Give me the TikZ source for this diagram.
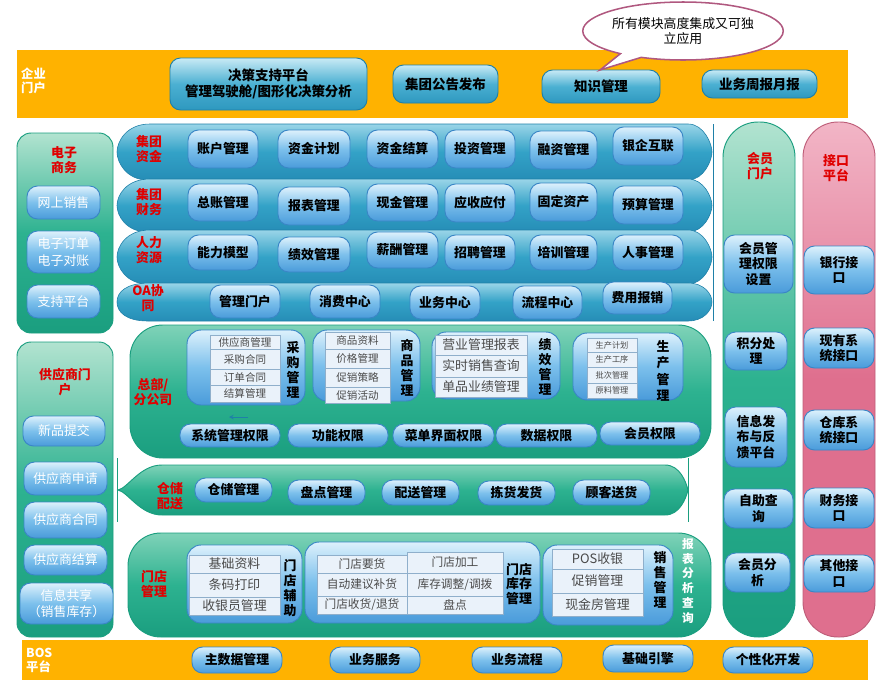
\documentclass[tikz,border=0pt]{standalone}
\usepackage{fontspec}
\setmainfont{Noto Sans CJK SC}
\usetikzlibrary{shapes.callouts}
\definecolor{barorange}{HTML}{FFB200}
\definecolor{lblred}{HTML}{E00000}
\definecolor{btnlight}{HTML}{DDF1FC}
\definecolor{btnmid}{HTML}{7CC0EC}
\definecolor{btndark}{HTML}{4A9BDA}
\definecolor{btnedge}{HTML}{3A86C6}
\definecolor{toplight}{HTML}{C8EAF5}
\definecolor{topmid}{HTML}{4BB0D2}
\definecolor{topdark}{HTML}{2E98BF}
\definecolor{topedge}{HTML}{1F80A8}
\definecolor{tubelight}{HTML}{9AD5E8}
\definecolor{tubemid}{HTML}{33A2C7}
\definecolor{tubedark}{HTML}{268DB6}
\definecolor{greenlight}{HTML}{B2E3D0}
\definecolor{greenwide}{HTML}{7FD2B8}
\definecolor{greenmid}{HTML}{2DB290}
\definecolor{greendark}{HTML}{1A9E7F}
\definecolor{pinklight}{HTML}{F2B5C6}
\definecolor{pinkdark}{HTML}{DF6F8E}
\definecolor{cellfill}{HTML}{EAF2FA}
\definecolor{celledge}{HTML}{8FAFCB}
\definecolor{celltext}{HTML}{4A4A4A}
\definecolor{bubbleedge}{HTML}{B0587F}
\tikzset{
  btn/.style={rounded corners=9pt, draw=btnedge, line width=0.8pt, top color=btnlight, bottom color=btndark, middle color=btnmid, inner sep=0pt, align=center, font=\fontsize{11}{13}\selectfont\bfseries},
  topbtn/.style={btn, draw=topedge, top color=toplight, bottom color=topdark, middle color=topmid, font=\fontsize{11.5}{14}\selectfont\bfseries},
  sidebtn/.style={btn, text=white, font=\fontsize{11}{14}\selectfont},
  subbox/.style={rounded corners=12pt, draw=btnedge, line width=0.8pt, top color=btnlight, bottom color=btndark, middle color=btnmid, inner sep=0pt},
  cell/.style={draw=celledge, fill=cellfill, inner sep=0pt, text=celltext, font=\fontsize{9}{10}\selectfont},
  vlbl/.style={align=center, inner sep=0pt, font=\fontsize{11}{13}\selectfont\bfseries},
  redlbl/.style={text=lblred, align=center, inner sep=0pt, font=\fontsize{11}{12.5}\selectfont\bfseries},
  barlbl/.style={text=white, align=left, inner sep=0pt, anchor=west, font=\fontsize{10.5}{12}\selectfont\bfseries},
  tube/.style={draw=topedge, line width=0.5pt, top color=tubelight, bottom color=tubedark, middle color=tubemid},
  greenpanel/.style={draw=greendark, line width=0.8pt, top color=greenlight, bottom color=greendark, middle color=greenmid},
  widepanel/.style={greenpanel, top color=greenwide, bottom color=greendark, middle color=greenmid},
  pinkpanel/.style={draw=pinkdark!85!black, line width=0.8pt, top color=pinklight, bottom color=pinkdark, middle color=pinkdark}
}
\newcommand{\blk}[7][]{\node[#1, minimum width={(#5-#3)*0.03cm}, minimum height={(#6-#4)*0.03cm}] (#2) at ({(#3+#5)/2},{(#4+#6)/2}) {#7};}
\newcommand{\tube}[2]{\shade[tube] (150,#1) -- (688,#1) .. controls (704,#1) and (712,{(#1+#2)/2-8}) .. (712,{(#1+#2)/2}) .. controls (712,{(#1+#2)/2+8}) and (704,#2) .. (688,#2) -- (148,#2) .. controls (126,#2) and (117,{(#1+#2)/2+10}) .. (117,{(#1+#2)/2}) .. controls (117,{(#1+#2)/2-10}) and (126,#1) .. (150,#1) -- cycle;}

\begin{document}
\begin{tikzpicture}[x=0.03cm, y=-0.03cm]
\useasboundingbox (0,0) rectangle (879,693);

\fill[barorange] (17,50) rectangle (848,118);
\node[barlbl] (qymh) at (21,81) {企业\\门户};
\blk[topbtn]{jczc}{170}{58}{367}{110}{决策支持平台\\管理驾驶舱/图形化决策分析}
\blk[topbtn]{jtgg}{393}{65}{498}{103}{集团公告发布}
\blk[topbtn]{zsgl}{542}{70}{660}{103}{知识管理}
\blk[topbtn]{ywzb}{702}{70}{817}{98}{业务周报月报}
\node[ellipse callout, draw=bubbleedge, line width=1.3pt, fill=white, minimum width=180*0.03cm, minimum height=58*0.03cm, inner sep=0pt, align=center, callout absolute pointer={(600,70)}, callout pointer arc=14, font=\fontsize{11}{13}\selectfont] (bubble) at (683,31) {所有模块高度集成又可独\\立应用};

\shade[greenpanel, rounded corners=12pt] (17,133) rectangle (113,333);
\node[redlbl] (dzsw) at (64,160) {电子\\商务};
\blk[sidebtn]{wsxs}{27}{186}{100}{219}{网上销售}
\blk[sidebtn]{dzdd}{27}{231}{100}{273}{电子订单\\电子对账}
\blk[sidebtn]{zcpt}{27}{285}{100}{318}{支持平台}

\shade[greenpanel, rounded corners=12pt] (17,342) rectangle (113,637);
\node[redlbl] (gysmh) at (65,382) {供应商门\\户};
\blk[sidebtn]{xptj}{23}{416}{105}{446}{新品提交}
\blk[sidebtn]{gyssq}{24}{462}{107}{495}{供应商申请}
\blk[sidebtn]{gysht}{24}{502}{107}{538}{供应商合同}
\blk[sidebtn]{gysjs}{24}{545}{107}{575}{供应商结算}
\blk[sidebtn]{xxgx}{20}{583}{113}{624}{信息共享\\（销售库存）}

\tube{124}{180}
\tube{179}{232}
\tube{230}{284}
\tube{283}{321}
\draw[topedge, line width=0.6pt] (713,124) -- (713,321);
\node[redlbl] (jtzj) at (149,149) {集团\\资金};
\node[redlbl] (jtcw) at (149,202) {集团\\财务};
\node[redlbl] (rlzy) at (149,250) {人力\\资源};
\node[redlbl] (oaxt) at (148,298) {OA协\\同};
\blk[btn]{zhgl}{188}{130}{258}{168}{账户管理}
\blk[btn]{zjjh}{278}{130}{350}{168}{资金计划}
\blk[btn]{zjjs}{367}{130}{438}{168}{资金结算}
\blk[btn]{tzgl}{445}{130}{515}{168}{投资管理}
\blk[btn]{rzgl}{530}{131}{597}{169}{融资管理}
\blk[btn]{yqhl}{613}{127}{683}{165}{银企互联}
\blk[btn]{zzgl}{188}{184}{258}{221}{总账管理}
\blk[btn]{bbgl}{278}{187}{350}{225}{报表管理}
\blk[btn]{xjgl}{367}{184}{438}{221}{现金管理}
\blk[btn]{ysyf}{445}{184}{515}{222}{应收应付}
\blk[btn]{gdzc}{530}{183}{597}{221}{固定资产}
\blk[btn]{ysgl}{613}{186}{683}{224}{预算管理}
\blk[btn]{nlmx}{188}{235}{258}{270}{能力模型}
\blk[btn]{jxgl}{278}{237}{350}{272}{绩效管理}
\blk[btn]{xcgl}{367}{232}{438}{268}{薪酬管理}
\blk[btn]{zpgl}{445}{235}{515}{270}{招聘管理}
\blk[btn]{pxgl}{530}{235}{597}{270}{培训管理}
\blk[btn]{rsgl}{613}{235}{683}{270}{人事管理}
\blk[btn]{glmh}{210}{285}{280}{318}{管理门户}
\blk[btn]{xfzx}{310}{285}{380}{318}{消费中心}
\blk[btn]{ywzx}{410}{286}{480}{319}{业务中心}
\blk[btn]{lczx}{513}{286}{582}{319}{流程中心}
\blk[btn]{fybx}{603}{282}{672}{314}{费用报销}

\shade[widepanel, rounded corners=28pt] (130,325) rectangle (711,458);
\node[redlbl] (zbfgs) at (153,392) {总部/\\分公司};
\blk[subbox]{cgbox}{187}{330}{305}{405}{}
\blk[cell]{c1}{210}{335}{280}{349}{供应商管理}
\blk[cell]{c2}{210}{349}{280}{369}{采购合同}
\blk[cell]{c3}{210}{369}{280}{385}{订单合同}
\blk[cell]{c4}{210}{385}{280}{402}{结算管理}
\node[vlbl] (cggl) at (293,370) {采\\购\\管\\理};
\blk[subbox]{spbox}{313}{330}{420}{401}{}
\blk[cell]{s1}{325}{332}{390}{349}{商品资料}
\blk[cell]{s2}{325}{349}{390}{368}{价格管理}
\blk[cell]{s3}{325}{368}{390}{387}{促销策略}
\blk[cell]{s4}{325}{387}{390}{403}{促销活动}
\node[vlbl] (spgl) at (407,368) {商\\品\\管\\理};
\blk[subbox]{jxbox}{432}{332}{560}{399}{}
\blk[cell, font=\fontsize{11}{12}\selectfont]{j1}{435}{335}{527}{355}{营业管理报表}
\blk[cell, font=\fontsize{11}{12}\selectfont]{j2}{435}{355}{527}{377}{实时销售查询}
\blk[cell, font=\fontsize{11}{12}\selectfont]{j3}{435}{377}{527}{397}{单品业绩管理}
\node[vlbl] (jxgl2) at (545,367) {绩\\效\\管\\理};
\blk[subbox]{scbox}{573}{333}{683}{400}{}
\blk[cell, font=\fontsize{7}{8}\selectfont]{p1}{587}{338}{637}{352}{生产计划}
\blk[cell, font=\fontsize{7}{8}\selectfont]{p2}{587}{352}{637}{367}{生产工序}
\blk[cell, font=\fontsize{7}{8}\selectfont]{p3}{587}{367}{637}{383}{批次管理}
\blk[cell, font=\fontsize{7}{8}\selectfont]{p4}{587}{383}{637}{398}{原料管理}
\node[vlbl, font=\fontsize{11}{14}\selectfont\bfseries] (scgl) at (663,371) {生\\产\\管\\理};
\coordinate (arrS) at (248,417);
\coordinate (arrE) at (229,417);
\draw[-stealth, topedge, line width=0.8pt] (arrS) -- (arrE);
\blk[btn]{xtqx}{180}{424}{280}{447}{系统管理权限}
\blk[btn]{gnqx}{288}{424}{388}{447}{功能权限}
\blk[btn]{cdqx}{393}{424}{494}{447}{菜单界面权限}
\blk[btn]{sjqx}{496}{424}{597}{447}{数据权限}
\blk[btn]{hyqx}{600}{422}{700}{445}{会员权限}

\draw[greendark, line width=0.6pt] (117,458) -- (117,522);
\draw[greendark, line width=0.6pt] (688,458) -- (688,522);
\shade[widepanel] (162,465) -- (665,465) .. controls (680,465) and (686,482) .. (688,490) .. controls (686,498) and (680,515) .. (665,515) -- (162,515) .. controls (140,515) and (128,492) .. (118,490) .. controls (128,488) and (140,465) .. (162,465) -- cycle;
\node[redlbl] (ccps) at (170,496) {仓储\\配送};
\blk[btn]{ccgl}{195}{478}{272}{502}{仓储管理}
\blk[btn]{pdgl}{288}{480}{365}{505}{盘点管理}
\blk[btn]{psgl}{382}{480}{459}{505}{配送管理}
\blk[btn]{jhfh}{478}{481}{555}{505}{拣货发货}
\blk[btn]{gksh}{573}{480}{650}{505}{顾客送货}

\shade[widepanel, rounded corners=28pt] (128,533) rectangle (711,637);
\node[redlbl] (mdgl) at (154,584) {门店\\管理};
\blk[subbox]{fzbox}{187}{545}{302}{623}{}
\blk[cell, font=\fontsize{11}{12}\selectfont]{f1}{189}{555}{280}{573}{基础资料}
\blk[cell, font=\fontsize{11}{12}\selectfont]{f2}{189}{573}{280}{597}{条码打印}
\blk[cell, font=\fontsize{11}{12}\selectfont]{f3}{189}{597}{280}{615}{收银员管理}
\node[vlbl] (mdfz) at (290,588) {门\\店\\辅\\助};
\blk[subbox]{kcbox}{305}{542}{540}{623}{}
\blk[cell, font=\fontsize{10}{11}\selectfont]{k1}{317}{555}{407}{573}{门店要货}
\blk[cell, font=\fontsize{10}{11}\selectfont]{k2}{317}{573}{407}{596}{自动建议补货}
\blk[cell, font=\fontsize{10}{11}\selectfont]{k3}{317}{596}{407}{614}{门店收货/退货}
\blk[cell, font=\fontsize{10}{11}\selectfont]{k4}{407}{552}{503}{573}{门店加工}
\blk[cell, font=\fontsize{10}{11}\selectfont]{k5}{407}{573}{503}{596}{库存调整/调拨}
\blk[cell, font=\fontsize{10}{11}\selectfont]{k6}{407}{596}{503}{614}{盘点}
\node[vlbl, font=\fontsize{11}{12.5}\selectfont\bfseries] (mdkc) at (519,584) {门店\\库存\\管理};
\blk[subbox]{xsbox}{543}{545}{673}{625}{}
\blk[cell, font=\fontsize{11}{12}\selectfont]{x1}{552}{549}{643}{569}{POS收银}
\blk[cell, font=\fontsize{11}{12}\selectfont]{x2}{552}{569}{643}{593}{促销管理}
\blk[cell, font=\fontsize{11}{12}\selectfont]{x3}{552}{593}{643}{616}{现金房管理}
\node[vlbl] (xsgl) at (660,580) {销\\售\\管\\理};
\node[vlbl, text=white, font=\fontsize{10}{12.8}\selectfont\bfseries] (bbfx) at (688,581) {报\\表\\分\\析\\查\\询};

\shade[greenpanel, rounded corners=30pt] (723,122) rectangle (795,637);
\node[redlbl] (hymh) at (760,166) {会员\\门户};
\blk[btn]{hyqxsz}{724}{235}{793}{293}{会员管\\理权限\\设置}
\blk[btn]{jfcl}{725}{332}{787}{370}{积分处\\理}
\blk[btn]{xxfb}{725}{407}{787}{467}{信息发\\布与反\\馈平台}
\blk[btn]{zzcx}{724}{489}{793}{528}{自助查\\询}
\blk[btn]{hyfx}{725}{553}{790}{592}{会员分\\析}

\shade[pinkpanel, rounded corners=30pt] (803,122) rectangle (875,637);
\node[redlbl] (jkpt) at (836,168) {接口\\平台};
\blk[btn]{yhjk}{804}{246}{874}{294}{银行接\\口}
\blk[btn]{xyjk}{804}{328}{874}{368}{现有系\\统接口}
\blk[btn]{ckjk}{804}{410}{874}{450}{仓库系\\统接口}
\blk[btn]{cwjk}{804}{488}{874}{528}{财务接\\口}
\blk[btn]{qtjk}{804}{555}{874}{592}{其他接\\口}

\fill[barorange] (22,640) rectangle (868,680);
\node[barlbl] (bos) at (26,660) {BOS\\平台};
\blk[btn]{zsjgl}{192}{647}{282}{673}{主数据管理}
\blk[btn]{ywfw}{330}{647}{420}{673}{业务服务}
\blk[btn]{ywlc}{472}{647}{562}{673}{业务流程}
\blk[btn]{jcyq}{603}{645}{693}{672}{基础引擎}
\blk[btn]{gxhkf}{723}{647}{813}{673}{个性化开发}
\end{tikzpicture}
\end{document}
